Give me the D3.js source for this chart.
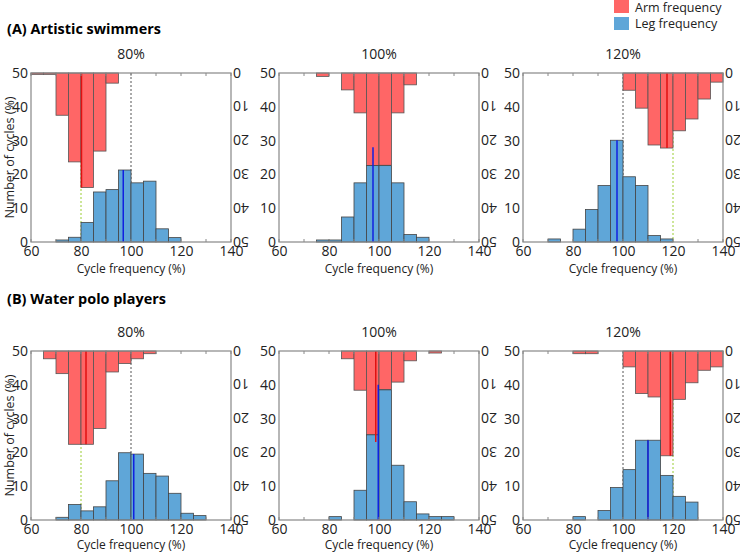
<!DOCTYPE html>
<html><head><meta charset="utf-8">
<script src="https://cdn.jsdelivr.net/npm/d3@7"></script>
<style>body{margin:0;background:#fff;} text{font-family:"Open Sans",sans-serif;}</style>
</head><body>
<svg id="c" width="740" height="552"></svg>
<script>
// bins: start of 5%-wide bins
const binStarts = d3.range(60, 140, 5);
const xTicks = [60, 80, 100, 120, 140];
const yTicks = [0, 10, 20, 30, 40, 50];
const groupTitles = ["(A) Artistic swimmers", "(B) Water polo players"];
const conditionLabels = ["80%", "100%", "120%"];
const targets = [80, 100, 120];
// arm (red) values per bin 60..135, hang from top
const armA80  = [0.4,0.4,12.5,26.3,33.9,23.1,3.0,0,0,0,0,0,0,0,0,0];
const armA100 = [0,0,0,1.0,0,5.0,11.8,27.4,27.3,11.8,3.5,0,0,0,0,0];
const armA120 = [0,0,0,0,0,0,0,0,5.1,10.4,21.3,22.2,17.1,13.6,7.7,2.7];
const armB80  = [0,2.3,6.7,27.6,27.6,22.9,6.2,3.7,2.3,0.8,0,0,0,0,0,0];
const armB100 = [0,0,0,0,0,2.3,11.6,24.8,11.4,9.2,2.9,0,0.6,0,0,0];
const armB120 = [0,0,0,0,0.8,0.8,0,0,4.7,12.6,13.6,31.0,14.3,9.4,5.7,4.7];
// leg (blue) values per bin 60..135, from bottom
const legA80  = [0,0,0.6,1.4,5.8,14.8,15.5,21.3,17.5,18.0,3.9,1.3,0,0,0,0];
const legA100 = [0,0,0,0.6,0.6,7.4,17.5,22.6,22.6,17.5,2.2,1.4,0,0,0,0];
const legA120 = [0,0,0.9,0,3.8,9.6,16.7,30.1,19.3,16.7,1.9,0.9,0,0,0,0];
const legB80  = [0,0,0.8,4.6,2.7,3.9,11.6,19.9,19.5,13.8,13.0,7.9,2.0,1.3,0,0];
const legB100 = [0,0,0,0,1.0,0,8.8,25.2,38.5,16.2,5.4,1.8,1.0,1.0,0,0];
const legB120 = [0,0,0,0,1.0,0,2.8,9.6,14.9,23.6,23.6,13.2,7.0,5.3,0,0];
// mean lines: [x, length]
const armMeans = [[80.2,33.9],null,[117.6,22.2],[82.0,27.6],[98.7,26.9],[118.9,31.0]];
const legMeans = [[96.9,21.3],[97.6,28.0],[97.6,30.1],[101.1,19.5],[99.7,40.0],[110.0,23.6]];

const arms = [armA80, armA100, armA120, armB80, armB100, armB120];
const legs = [legA80, legA100, legA120, legB80, legB100, legB120];

const svg = d3.select("#c");
const W = 200, H = 169;
const colX = [31, 279, 523];
const rowY = [73, 351];
const red = "#ff6666", blue = "#5fa6d8", axisCol = "#888";

// group titles
svg.append("text").attr("x", 7).attr("y", 34).attr("font-size", 15).attr("font-weight", "bold")
  .attr("textLength", 154).attr("lengthAdjust", "spacingAndGlyphs").text(groupTitles[0]);
svg.append("text").attr("x", 7).attr("y", 304).attr("font-size", 15).attr("font-weight", "bold")
  .attr("textLength", 159).attr("lengthAdjust", "spacingAndGlyphs").text(groupTitles[1]);

// legend
const leg = svg.append("g");
leg.append("rect").attr("x", 614).attr("y", 0).attr("width", 15).attr("height", 13).attr("fill", red);
leg.append("rect").attr("x", 614).attr("y", 17).attr("width", 15).attr("height", 13).attr("fill", blue);
leg.append("text").attr("x", 635).attr("y", 12).attr("font-size", 12.5).attr("fill", "#222").text("Arm frequency");
leg.append("text").attr("x", 635).attr("y", 28).attr("font-size", 12.5).attr("fill", "#222").text("Leg frequency");

const x = d3.scaleLinear().domain([60, 140]).range([0, W]);
const yL = d3.scaleLinear().domain([0, 50]).range([H, 0]);
const yR = d3.scaleLinear().domain([0, 50]).range([0, H]);

for (let r = 0; r < 2; r++) {
  for (let c = 0; c < 3; c++) {
    const idx = r * 3 + c;
    const g = svg.append("g").attr("transform", `translate(${colX[c]},${rowY[r]})`);
    // title
    g.append("text").attr("x", W / 2).attr("y", -14).attr("text-anchor", "middle").attr("font-size", 14)
      .attr("fill", "#222").text(conditionLabels[c]);
    // dashed lines
    g.append("line").attr("x1", x(100)).attr("x2", x(100)).attr("y1", 0).attr("y2", H)
      .attr("stroke", "#555").attr("stroke-width", 1).attr("stroke-dasharray", "2,2");
    g.append("line").attr("x1", x(targets[c])).attr("x2", x(targets[c])).attr("y1", 0).attr("y2", H)
      .attr("stroke", targets[c] === 100 ? "#7a9a3a" : "#9acd32").attr("stroke-width", 1).attr("stroke-dasharray", "2,2");
    // arm bars
    const armData = binStarts.map((b, i) => ({ b, v: arms[idx][i] })).filter(d => d.v > 0);
    g.selectAll(".arm").data(armData).enter().append("rect")
      .attr("x", d => x(d.b)).attr("y", 0)
      .attr("width", d => x(d.b + 5) - x(d.b)).attr("height", d => yR(d.v))
      .attr("fill", red).attr("stroke", "#555").attr("stroke-width", 0.8);
    // leg bars
    const legData = binStarts.map((b, i) => ({ b, v: legs[idx][i] })).filter(d => d.v > 0);
    g.selectAll(".leg").data(legData).enter().append("rect")
      .attr("x", d => x(d.b)).attr("y", d => yL(d.v))
      .attr("width", d => x(d.b + 5) - x(d.b)).attr("height", d => H - yL(d.v))
      .attr("fill", blue).attr("stroke", "#444").attr("stroke-width", 0.8);
    // mean lines
    const am = armMeans[idx];
    if (am) g.append("line").attr("x1", x(am[0])).attr("x2", x(am[0])).attr("y1", 0).attr("y2", yR(am[1]))
      .attr("stroke", "#e01010").attr("stroke-width", 1.5);
    const lm = legMeans[idx];
    g.append("line").attr("x1", x(lm[0])).attr("x2", x(lm[0])).attr("y1", H).attr("y2", yL(lm[1]))
      .attr("stroke", "#1020e0").attr("stroke-width", 1.5);
    // frame
    g.append("rect").attr("x", 0).attr("y", 0).attr("width", W).attr("height", H)
      .attr("fill", "none").attr("stroke", axisCol).attr("stroke-width", 1.2);
    // bottom axis
    const xa = g.append("g").attr("transform", `translate(0,${H})`)
      .call(d3.axisBottom(x).tickValues(xTicks).tickSize(0).tickPadding(4));
    xa.select(".domain").remove();
    xa.selectAll("text").attr("font-size", 14).attr("fill", "#222").attr("font-family", "Open Sans");
    // minor ticks inward
    g.selectAll(".mt").data(d3.range(60, 141, 10)).enter().append("line")
      .attr("x1", d => x(d)).attr("x2", d => x(d)).attr("y1", H).attr("y2", H - 3)
      .attr("stroke", axisCol);
    g.selectAll(".mt2").data(d3.range(60, 141, 10)).enter().append("line")
      .attr("x1", d => x(d)).attr("x2", d => x(d)).attr("y1", 0).attr("y2", 3)
      .attr("stroke", axisCol);
    // left axis
    const ya = g.append("g").call(d3.axisLeft(yL).tickValues(yTicks).tickSize(0).tickPadding(3));
    ya.select(".domain").remove();
    ya.selectAll("text").attr("font-size", 14).attr("fill", "#222").attr("font-family", "Open Sans");
    // right axis, upside-down labels
    g.selectAll(".rt").data(yTicks).enter().append("text")
      .attr("transform", d => `translate(${W + 2},${yR(d)}) rotate(180)`)
      .attr("text-anchor", "end").attr("dominant-baseline", "central")
      .attr("font-size", 14).attr("fill", "#222").text(d => d);
    // x label
    g.append("text").attr("x", W / 2).attr("y", H + (r === 0 ? 31 : 29)).attr("text-anchor", "middle").attr("font-size", 12)
      .attr("fill", "#222").text("Cycle frequency (%)");
    if (c === 0) {
      g.append("text").attr("transform", `translate(-17,${H / 2}) rotate(-90)`).attr("text-anchor", "middle")
        .attr("font-size", 12.5).attr("fill", "#222").text("Number of cycles (%)");
    }
  }
}
</script>
</body></html>
